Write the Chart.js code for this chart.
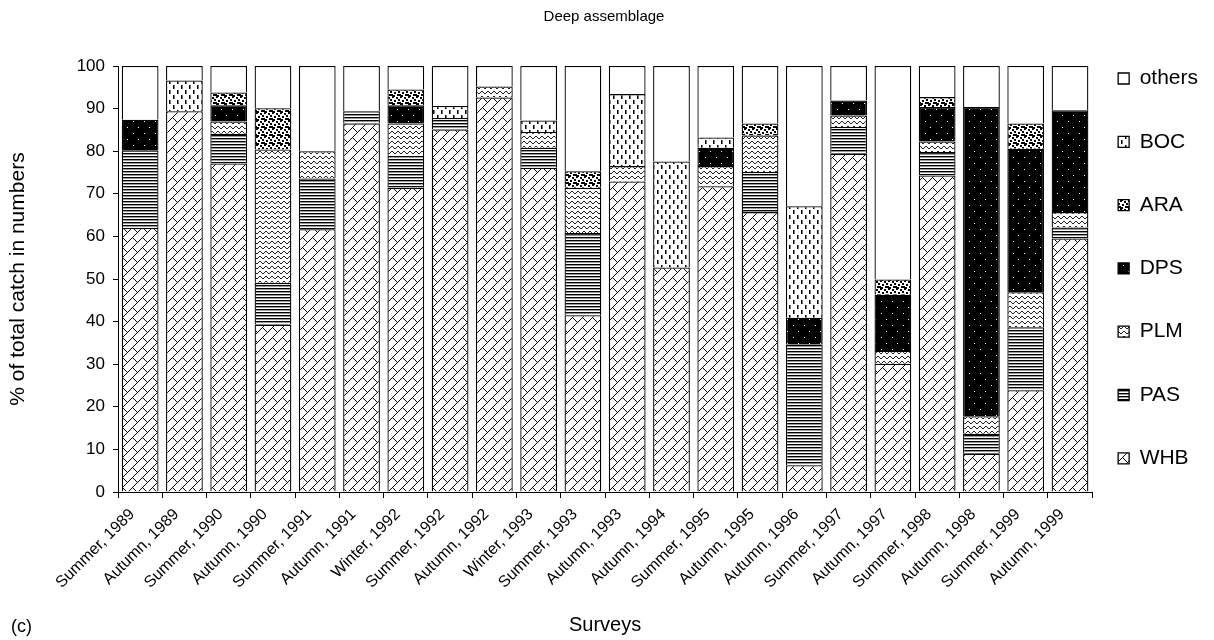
<!DOCTYPE html>
<html>
<head>
<meta charset="utf-8">
<script src="https://cdn.jsdelivr.net/npm/chart.js@4.4.1/dist/chart.umd.min.js"></script>
<style>
  html, body { margin: 0; padding: 0; background: #fff; }
</style>
</head>
<body>
<canvas id="chart" width="1214" height="640"></canvas>
<script>
// survey categories (x axis)
const surveys = [
    'Summer, 1989', 'Autumn, 1989', 'Summer, 1990', 'Autumn, 1990', 'Summer, 1991', 'Autumn, 1991',
    'Winter, 1992', 'Summer, 1992', 'Autumn, 1992', 'Winter, 1993', 'Summer, 1993', 'Autumn, 1993',
    'Autumn, 1994', 'Summer, 1995', 'Autumn, 1995', 'Autumn, 1996', 'Summer, 1997', 'Autumn, 1997',
    'Summer, 1998', 'Autumn, 1998', 'Summer, 1999', 'Autumn, 1999'
];

// % of total catch in numbers, per species group (null = not present)
const whb = [62.0, 89.4, 77.1, 39.3, 61.7, 86.5, 71.4, 85.1, 92.6, 76.1, 41.5, 72.9, 52.7, 71.8, 65.7, 6.3, 79.4, 30.1, 74.3, 9.0, 23.9, 59.5];
const pas = [18.2, null, 7.0, 9.8, 11.9, 2.9, 7.5, 2.7, null, 4.7, 19.3, null, null, null, 9.4, 28.3, 6.3, null, 5.5, 4.7, 14.8, 2.6];
const plm = [null, null, 2.9, 31.3, 6.4, null, 7.6, null, 2.6, 3.7, 10.6, 3.6, null, 4.7, 8.6, null, 2.7, 3.0, 2.5, 4.1, 8.2, 3.6];
const dps = [7.2, null, 3.8, null, null, null, 4.3, null, null, null, null, null, null, 4.3, null, 6.3, 3.5, 13.2, 8.1, 72.6, 33.7, 23.9];
const ara = [null, null, 3.0, 9.7, null, null, 3.7, null, null, null, 3.9, null, null, null, 2.8, null, null, 3.6, 2.3, null, 5.9, null];
const boc = [null, 7.2, null, null, null, null, null, 2.8, null, 2.7, null, 16.9, 24.9, 2.4, null, 26.2, null, null, null, null, null, null];
const others = [12.6, 3.4, 6.2, 9.9, 20.0, 10.6, 5.5, 9.4, 4.8, 12.8, 24.7, 6.6, 22.4, 16.8, 13.5, 32.9, 8.1, 50.1, 7.3, 9.6, 13.5, 10.4];

const yTicks = [0, 10, 20, 30, 40, 50, 60, 70, 80, 90, 100];

const FONT = '"Liberation Sans", Arial, Helvetica, sans-serif';

// --- black & white fill patterns, like the old spreadsheet chart ---
function makePattern(w, h, bg, paint) {
    const c = document.createElement('canvas');
    c.width = w;
    c.height = h;
    const g = c.getContext('2d');
    g.fillStyle = bg;
    g.fillRect(0, 0, w, h);
    paint(g, w, h);
    return g.createPattern(c, 'repeat');
}

function px(g, x, y, color, w, h) {
    g.fillStyle = color || '#000';
    g.fillRect(x, y, w || 1, h || 1);
}

const patWHB = makePattern(10, 10, '#fff', g => {
    for (let x = 0; x < 10; x++) px(g, x, 9 - x);
    [[2, 7], [3, 8], [4, 9], [5, 0], [6, 1], [7, 2]].forEach(p => px(g, p[0], p[1]));
});
const patPAS = makePattern(4, 3, '#fff', g => {
    px(g, 0, 0, '#000', 4, 1);
    px(g, 0, 1, '#999', 4, 1);
});
const patPLM = makePattern(6, 5, '#fff', g => {
    const wave = [2, 1, 1, 2, 3, 3];
    wave.forEach((y, x) => px(g, x, y, '#222'));
});
const patDPS = makePattern(11, 12, '#000', g => {
    px(g, 1, 1, '#fff');
    px(g, 6, 7, '#fff');
});
const patARA = makePattern(8, 8, '#fff', g => {
    [[0, 0], [4, 1], [6, 3], [2, 4], [5, 6], [1, 7], [7, 6]].forEach(p => {
        for (let dx = 0; dx < 2; dx++)
            for (let dy = 0; dy < 2; dy++) px(g, (p[0] + dx) % 8, (p[1] + dy) % 8);
    });
});
const patBOC = makePattern(8, 10, '#fff', g => {
    px(g, 1, 0, '#000', 1, 4);
    px(g, 2, 0, '#777', 1, 4);
    px(g, 5, 5, '#000', 1, 4);
    px(g, 6, 5, '#777', 1, 4);
});

function series(label, data, fill) {
    return {
        label: label,
        data: data,
        backgroundColor: fill,
        borderColor: '#000',
        borderWidth: 1.3,
        barPercentage: 0.83,
        categoryPercentage: 1.0
    };
}

// small text "(c)" in the lower left corner
const panelLabel = {
    id: 'panelLabel',
    afterDraw(chart) {
        const ctx = chart.ctx;
        ctx.save();
        ctx.font = '18px ' + FONT;
        ctx.fillStyle = '#000';
        ctx.textBaseline = 'middle';
        ctx.fillText('(c)', 11, 627);
        ctx.restore();
    }
};

new Chart(document.getElementById('chart'), {
    type: 'bar',
    data: {
        labels: surveys,
        datasets: [
            series('WHB', whb, patWHB),
            series('PAS', pas, patPAS),
            series('PLM', plm, patPLM),
            series('DPS', dps, patDPS),
            series('ARA', ara, patARA),
            series('BOC', boc, patBOC),
            series('others', others, '#fff')
        ]
    },
    options: {
        responsive: false,
        animation: false,
        layout: { padding: { left: 0, right: 6, top: 0, bottom: 0 } },
        plugins: {
            title: {
                display: true,
                text: 'Deep assemblage',
                color: '#000',
                font: { family: FONT, size: 15, weight: 'normal' },
                padding: { top: 8, bottom: 40 }
            },
            legend: {
                position: 'right',
                align: 'start',
                reverse: true,
                title: { display: true, text: '', font: { size: 10 }, padding: { top: 30, bottom: 0 } },
                labels: {
                    boxWidth: 11,
                    boxHeight: 11,
                    padding: 26,
                    color: '#000',
                    font: { family: FONT, size: 21, lineHeight: 1.776 },
                    // one-line arrays so each row gets the taller line height
                    generateLabels: chart => Chart.defaults.plugins.legend.labels.generateLabels(chart)
                        .map(item => Object.assign(item, { text: [item.text] }))
                }
            },
            tooltip: { enabled: false }
        },
        scales: {
            x: {
                stacked: true,
                grid: { display: true, drawOnChartArea: false, drawTicks: true, tickLength: 6, color: '#000', offset: true },
                border: { display: true, color: '#000', width: 1 },
                ticks: {
                    color: '#000',
                    font: { family: FONT, size: 16 },
                    maxRotation: 45,
                    minRotation: 45,
                    autoSkip: false,
                    padding: 7,
                    labelOffset: -8
                },
                title: {
                    display: true,
                    text: 'Surveys',
                    color: '#000',
                    font: { family: FONT, size: 20 },
                    padding: { top: 0, bottom: 3 }
                },
                afterFit: scale => { scale.height = 148; }
            },
            y: {
                stacked: true,
                min: 0,
                max: 100,
                afterBuildTicks: scale => { scale.ticks = yTicks.map(v => ({ value: v })); },
                grid: { display: true, drawOnChartArea: false, drawTicks: true, tickLength: 5, color: '#000' },
                border: { display: true, color: '#000', width: 1 },
                ticks: { color: '#000', font: { family: FONT, size: 17 }, padding: 8 },
                title: {
                    display: true,
                    text: '% of total catch in numbers',
                    color: '#000',
                    font: { family: FONT, size: 21 },
                    padding: { top: 6, bottom: 0 }
                },
                afterFit: scale => { scale.width = 118; }
            }
        }
    },
    plugins: [panelLabel]
});
</script>
</body>
</html>
